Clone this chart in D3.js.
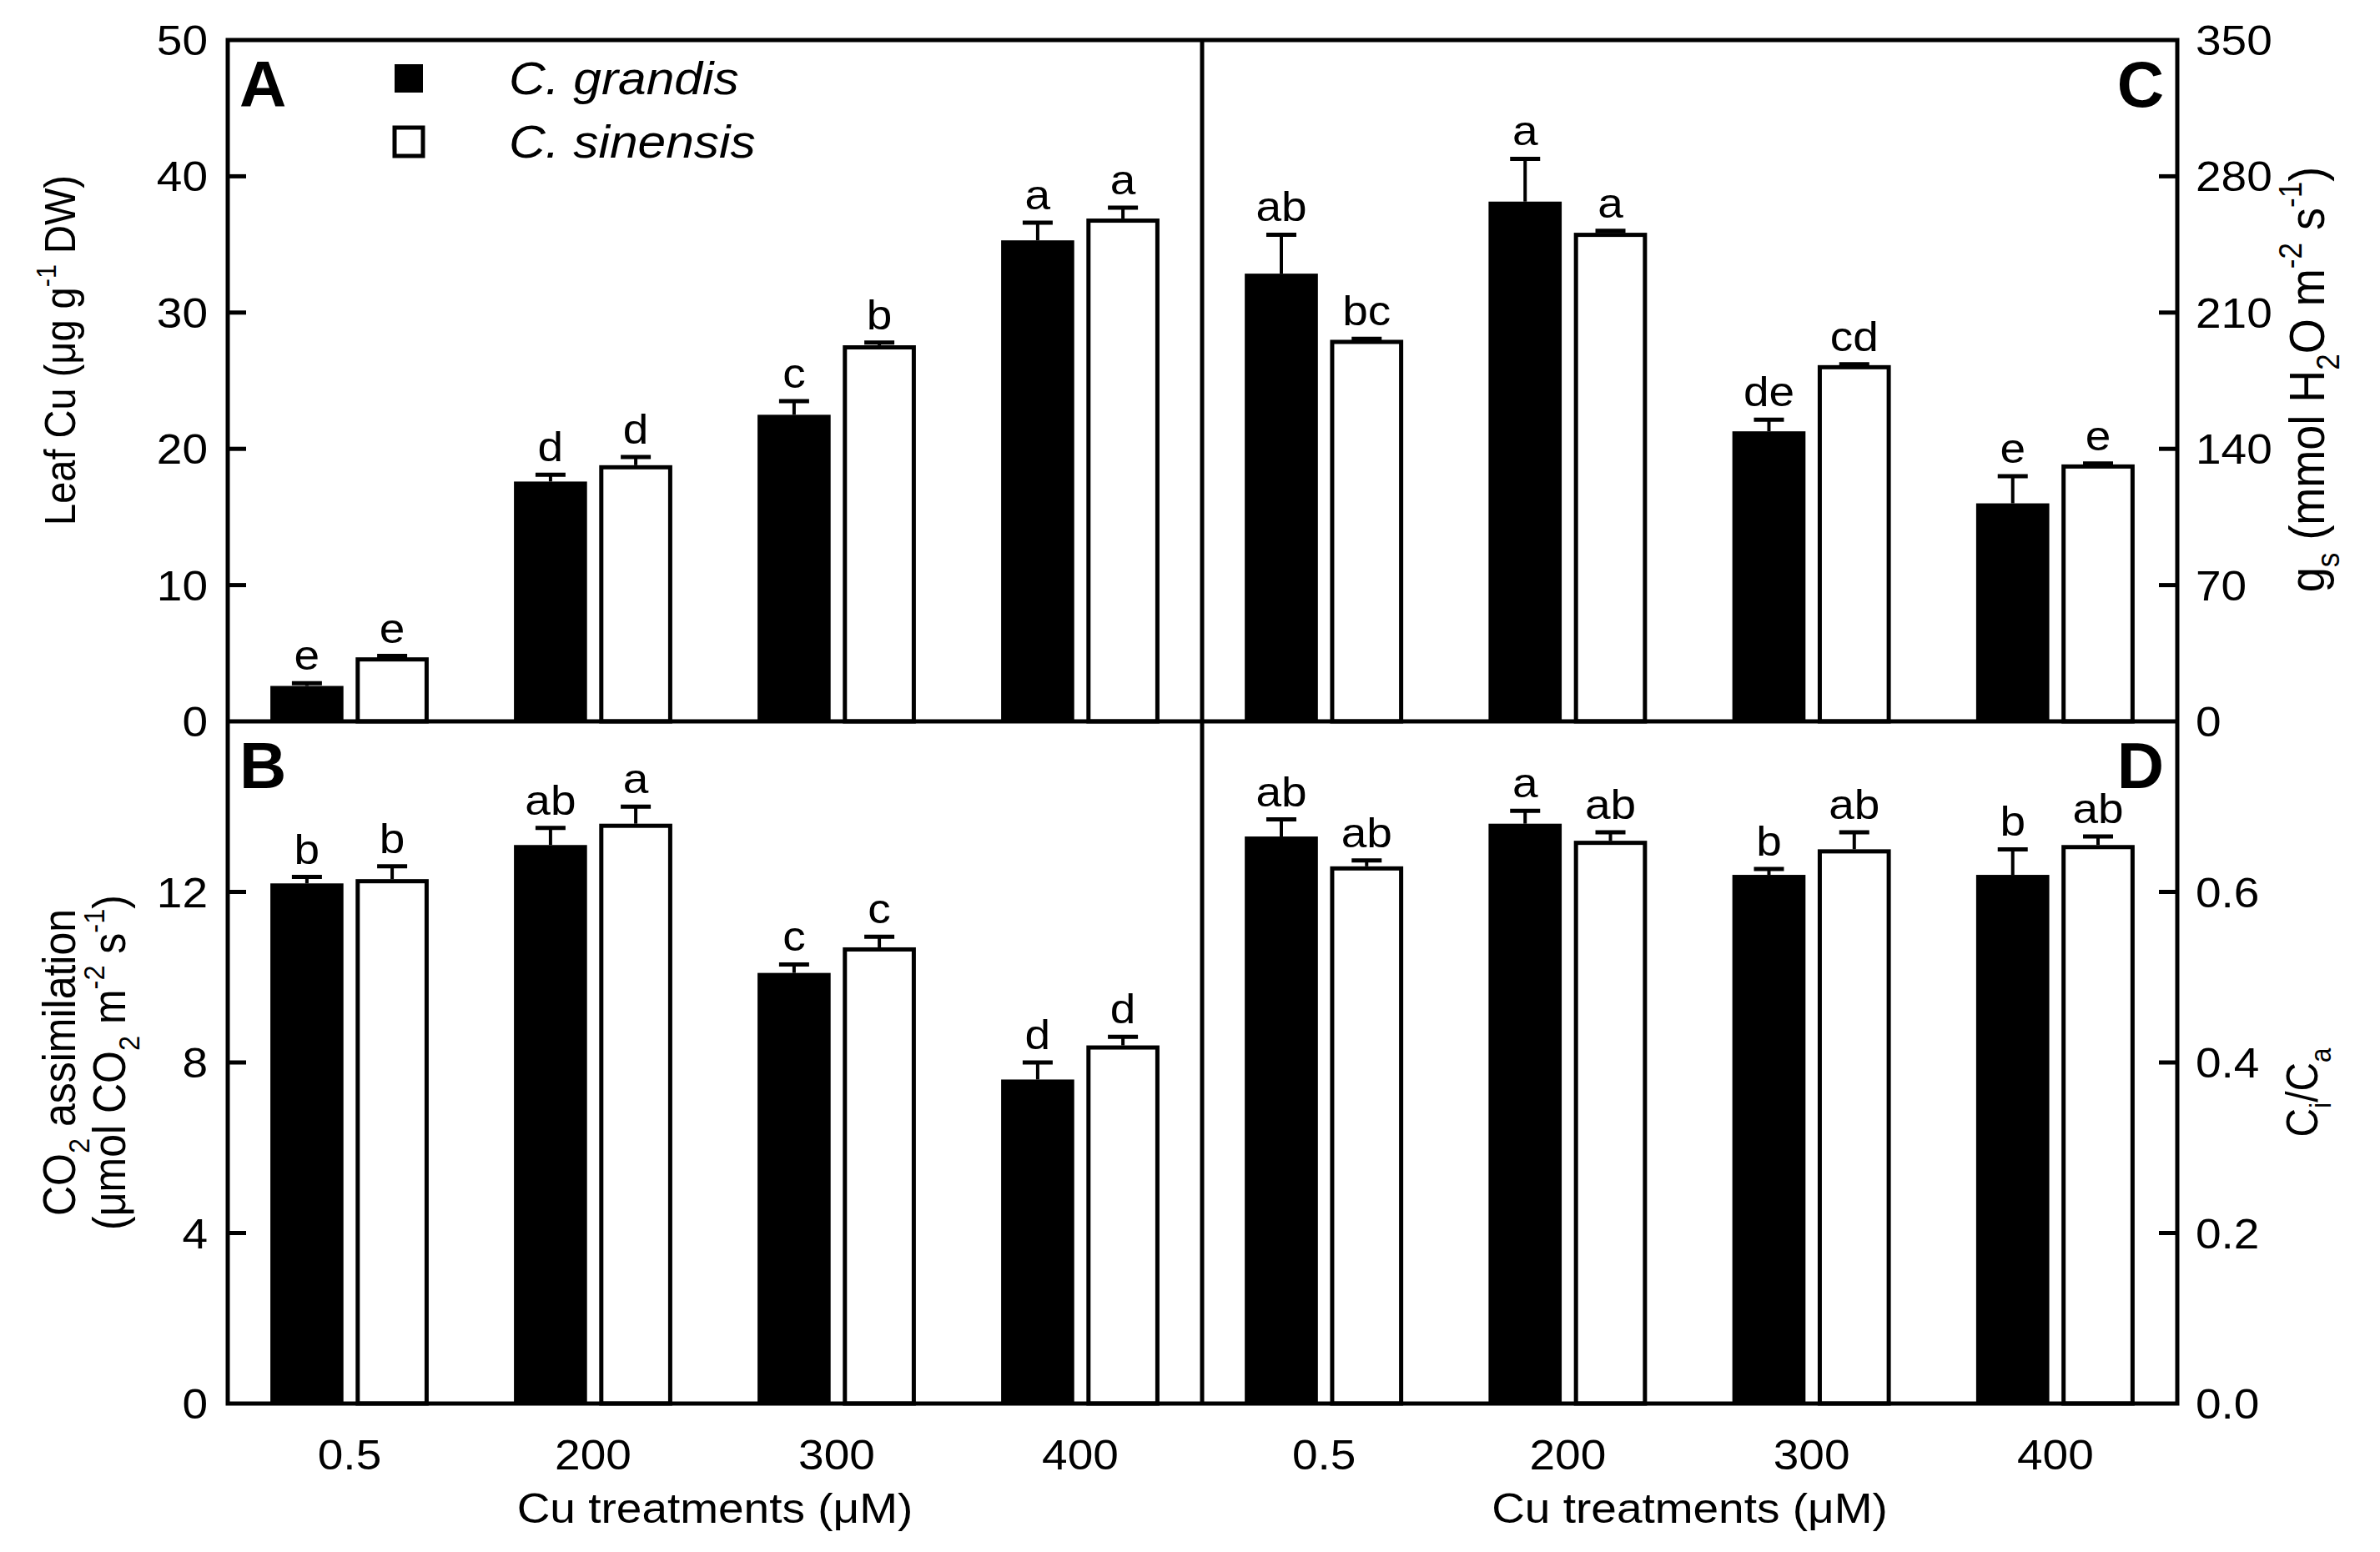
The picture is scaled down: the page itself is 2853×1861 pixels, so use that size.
<!DOCTYPE html>
<html>
<head>
<meta charset="utf-8">
<script src="https://cdn.jsdelivr.net/npm/d3@7"></script>
<style>
  html, body { margin: 0; padding: 0; background: #fff; }
  svg { display: block; }
  text { font-family: "Liberation Sans", Arial, sans-serif; fill: #000; }
</style>
</head>
<body>
<svg id="chart" width="2853" height="1861"></svg>
<script>
// ---------------- DATA ----------------
const categories = ["0.5", "200", "300", "400"];
const seriesNames = ["C. grandis", "C. sinensis"];

// Panel A: Leaf Cu (µg g-1 DW)
const leafCuGrandis = [2.6, 17.6, 22.5, 35.3];
const leafCuGrandisErr = [0.2, 0.5, 1.0, 1.3];
const leafCuSinensis = [4.7, 18.8, 27.6, 36.9];
const leafCuSinensisErr = [0.1, 0.6, 0.2, 0.8];
const leafCuLettersGrandis = ["e", "d", "c", "a"];
const leafCuLettersSinensis = ["e", "d", "b", "a"];
const leafCuTicks = [0, 10, 20, 30, 40, 50];

// Panel B: CO2 assimilation
const co2Grandis = [12.2, 13.1, 10.1, 7.6];
const co2GrandisErr = [0.15, 0.4, 0.2, 0.4];
const co2Sinensis = [12.3, 13.6, 10.7, 8.4];
const co2SinensisErr = [0.3, 0.4, 0.25, 0.2];
const co2LettersGrandis = ["b", "ab", "c", "d"];
const co2LettersSinensis = ["b", "a", "c", "d"];
const co2Ticks = [0, 4, 8, 12];

// Panel C: gs
const gsGrandis = [230, 267, 149, 112];
const gsGrandisErr = [20, 22, 6, 14];
const gsSinensis = [196, 251, 183, 132];
const gsSinensisErr = [0.5, 1, 0.5, 0.5];
const gsLettersGrandis = ["ab", "a", "de", "e"];
const gsLettersSinensis = ["bc", "a", "cd", "e"];
const gsTicks = [0, 70, 140, 210, 280, 350];

// Panel D: Ci/Ca
const ciGrandis = [0.665, 0.68, 0.62, 0.62];
const ciGrandisErr = [0.02, 0.015, 0.007, 0.03];
const ciSinensis = [0.63, 0.66, 0.65, 0.655];
const ciSinensisErr = [0.007, 0.01, 0.02, 0.01];
const ciLettersGrandis = ["ab", "a", "b", "b"];
const ciLettersSinensis = ["ab", "ab", "ab", "ab"];
const ciTicks = [0.0, 0.2, 0.4, 0.6];

// ---------------- LAYOUT ----------------
const L = 273, R = 2610, T = 48, B = 1683, MX = 1441, MY = 865;
const SW = 5;           // frame stroke
const TICK = 22;
const FS = 50;          // tick label font size
const SX = 1.1;         // horizontal text stretch

const svg = d3.select("#chart");

function stretchText(g, x, y, anchor, rotate) {
  const t = g.append("text")
    .attr("transform", rotate
      ? `translate(${x},${y}) rotate(-90) scale(1,${SX})`
      : `translate(${x},${y}) scale(${SX},1)`)
    .attr("text-anchor", anchor);
  return t;
}

const panels = [
  { id: "A", x0: L, x1: MX, y0: T, y1: MY, domain: [0, 50], ticks: leafCuTicks, side: "left",
    g: leafCuGrandis, ge: leafCuGrandisErr, s: leafCuSinensis, se: leafCuSinensisErr,
    lg: leafCuLettersGrandis, ls: leafCuLettersSinensis, fmt: d3.format("d") },
  { id: "B", x0: L, x1: MX, y0: MY, y1: B, domain: [0, 16], ticks: co2Ticks, side: "left",
    g: co2Grandis, ge: co2GrandisErr, s: co2Sinensis, se: co2SinensisErr,
    lg: co2LettersGrandis, ls: co2LettersSinensis, fmt: d3.format("d") },
  { id: "C", x0: MX, x1: R, y0: T, y1: MY, domain: [0, 350], ticks: gsTicks, side: "right",
    g: gsGrandis, ge: gsGrandisErr, s: gsSinensis, se: gsSinensisErr,
    lg: gsLettersGrandis, ls: gsLettersSinensis, fmt: d3.format("d") },
  { id: "D", x0: MX, x1: R, y0: MY, y1: B, domain: [0, 0.8], ticks: ciTicks, side: "right",
    g: ciGrandis, ge: ciGrandisErr, s: ciSinensis, se: ciSinensisErr,
    lg: ciLettersGrandis, ls: ciLettersSinensis, fmt: d3.format(".1f") }
];

panels.forEach(p => {
  const x = d3.scaleBand().domain(categories).range([p.x0, p.x1]).padding(0);
  const y = d3.scaleLinear().domain(p.domain).range([p.y1, p.y0]);
  const bw = x.bandwidth() * 0.30;
  const gap = x.bandwidth() * 0.05;
  const g = svg.append("g");

  const sets = [
    { vals: p.g, errs: p.ge, letters: p.lg, fill: "#000", off: -gap / 2 - bw },
    { vals: p.s, errs: p.se, letters: p.ls, fill: "#fff", off: gap / 2 }
  ];
  sets.forEach(st => {
    categories.forEach((c, i) => {
      const cx = x(c) + x.bandwidth() / 2;
      const bx = cx + st.off;
      const v = st.vals[i], e = st.errs[i];
      const mid = bx + bw / 2;
      const ytop = y(v + e);
      g.append("line").attr("x1", mid).attr("x2", mid)
        .attr("y1", y(v)).attr("y2", ytop)
        .attr("stroke", "#000").attr("stroke-width", 4);
      g.append("line").attr("x1", mid - 18).attr("x2", mid + 18)
        .attr("y1", ytop).attr("y2", ytop)
        .attr("stroke", "#000").attr("stroke-width", 5);
      if (st.fill === "#000") {
        g.append("rect").attr("x", bx).attr("y", y(v))
          .attr("width", bw).attr("height", y(0) - y(v))
          .attr("fill", "#000");
      } else {
        g.append("rect").attr("x", bx + 2.5).attr("y", y(v) + 2.5)
          .attr("width", bw - 5).attr("height", y(0) - y(v) - 2.5)
          .attr("fill", "#fff").attr("stroke", "#000").attr("stroke-width", 5);
      }
      const t = stretchText(g, mid, ytop - 16, "middle", false);
      t.style("font-size", "50px").text(st.letters[i]);
    });
  });

  p.ticks.forEach(tv => {
    const ty = y(tv);
    if (tv !== p.domain[0] && tv !== p.domain[1]) {
      if (p.side === "left") {
        g.append("line").attr("x1", p.x0).attr("x2", p.x0 + TICK)
          .attr("y1", ty).attr("y2", ty).attr("stroke", "#000").attr("stroke-width", SW);
      } else {
        g.append("line").attr("x1", p.x1).attr("x2", p.x1 - TICK)
          .attr("y1", ty).attr("y2", ty).attr("stroke", "#000").attr("stroke-width", SW);
      }
    }
    const lx = p.side === "left" ? p.x0 - 24 : p.x1 + 22;
    const t = stretchText(g, lx, ty + FS * 0.36, p.side === "left" ? "end" : "start", false);
    t.style("font-size", FS + "px").text(p.fmt(tv));
  });

  if (p.y1 === B) {
    categories.forEach(c => {
      const t = stretchText(g, x(c) + x.bandwidth() / 2, 1762, "middle", false);
      t.style("font-size", FS + "px").text(c);
    });
    const tt = stretchText(g, (p.x0 + p.x1) / 2, 1826, "middle", false);
    tt.style("font-size", FS + "px");
    tt.append("tspan").text("Cu treatments (");
    tt.append("tspan").text("\u03BCM");
    tt.append("tspan").text(")");
  }

  const isLeft = p.side === "left";
  svg.append("text")
    .attr("x", isLeft ? p.x0 + 14 : p.x1 - 16)
    .attr("y", p.y0 + 80)
    .attr("text-anchor", isLeft ? "start" : "end")
    .style("font-size", "78px").style("font-weight", "bold")
    .text(p.id);
});

// frame
const frame = svg.append("g").attr("fill", "none").attr("stroke", "#000").attr("stroke-width", SW);
frame.append("rect").attr("x", L).attr("y", T).attr("width", R - L).attr("height", B - T);
frame.append("line").attr("x1", MX).attr("x2", MX).attr("y1", T).attr("y2", B);
frame.append("line").attr("x1", L).attr("x2", R).attr("y1", MY).attr("y2", MY);

// legend
const legend = svg.append("g");
const legendFills = ["#000", "#fff"];
seriesNames.forEach((nm, i) => {
  const cy = 94 + i * 76;
  legend.append("rect").attr("x", 473).attr("y", cy - 17).attr("width", 34).attr("height", 34)
    .attr("fill", legendFills[i]).attr("stroke", "#000").attr("stroke-width", i === 0 ? 0 : 5);
  const t = stretchText(legend, 610, cy + 19, "start", false);
  t.style("font-size", "55px").style("font-style", "italic").text(nm);
});

// y titles
function supSub(t, parts) {
  let shift = 0;
  parts.forEach(([s, type]) => {
    const ts = t.append("tspan").text(s);
    const target = type === "sup" ? -0.45 : type === "sub" ? 0.3 : 0;
    const fs = type === "n" ? 1 : 0.65;
    ts.style("font-size", fs + "em");
    const dyEm = target - shift;
    if (dyEm !== 0) ts.attr("dy", (dyEm / fs) + "em");
    shift = target;
  });
}
{
  const t = stretchText(svg, 90, 420, "middle", true).style("font-size", "47px");
  supSub(t, [["Leaf Cu (\u03BCg g", "n"], ["-1", "sup"], [" DW)", "n"]]);
}
{
  const t1 = stretchText(svg, 90, 1274, "middle", true).style("font-size", "50px");
  supSub(t1, [["CO", "n"], ["2", "sub"], [" assimilation", "n"]]);
  const t2 = stretchText(svg, 150, 1274, "middle", true).style("font-size", "50px");
  supSub(t2, [["(\u03BCmol CO", "n"], ["2", "sub"], [" m", "n"], ["-2", "sup"], [" s", "n"], ["-1", "sup"], [")", "n"]]);
}
{
  const t = stretchText(svg, 2786, 455, "middle", true).style("font-size", "54px");
  supSub(t, [["g", "n"], ["s", "sub"], [" (mmol H", "n"], ["2", "sub"], ["O m", "n"], ["-2", "sup"], [" s", "n"], ["-1", "sup"], [")", "n"]]);
}
{
  const t = stretchText(svg, 2778, 1310, "middle", true).style("font-size", "48px");
  supSub(t, [["C", "n"], ["i", "sub"], ["/C", "n"], ["a", "sub"]]);
}
</script>
</body>
</html>
